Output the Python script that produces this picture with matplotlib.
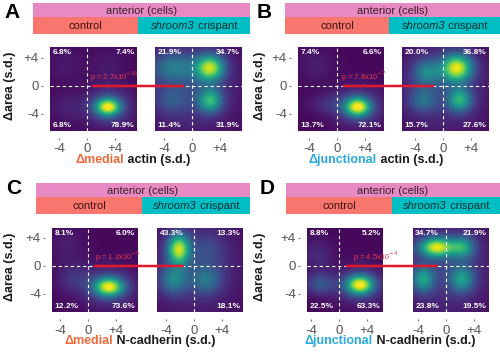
import matplotlib
matplotlib.use("Agg")
import matplotlib.pyplot as plt
import numpy as np
from matplotlib.patches import Rectangle, ConnectionPatch

plt.rcParams['font.family'] = ['Liberation Sans', 'DejaVu Sans']

# ---------------- data ----------------
x_ticks = [-4, 0, 4]
x_tick_labels = ["-4", "0", "+4"]
y_ticks = [4, 0, -4]
y_tick_labels = ["+4", "0", "-4"]

panel_letters = ["A", "B", "C", "D"]
x_label_prefix = ["\u0394medial", "\u0394junctional", "\u0394medial", "\u0394junctional"]
x_label_suffix = [" actin (s.d.)", " actin (s.d.)", " N-cadherin (s.d.)", " N-cadherin (s.d.)"]
p_values = ["p = 2.7x10$^{-16}$", "p = 7.8x10$^{-7}$", "p = 1.3x10$^{-5}$", "p = 4.5x10$^{-4}$"]

# quadrant percentages: TL, TR, BL, BR
pct_A_ctrl = ["6.8%", "7.4%", "6.8%", "78.9%"]
pct_A_shr = ["21.9%", "34.7%", "11.4%", "31.9%"]
pct_B_ctrl = ["7.4%", "6.6%", "13.7%", "72.1%"]
pct_B_shr = ["20.0%", "36.8%", "15.7%", "27.6%"]
pct_C_ctrl = ["8.1%", "6.0%", "12.2%", "73.6%"]
pct_C_shr = ["43.3%", "13.3%", "", "18.1%"]
pct_D_ctrl = ["8.8%", "5.2%", "22.5%", "63.3%"]
pct_D_shr = ["34.7%", "21.9%", "23.8%", "19.5%"]

# density blobs: (x, y, sd_x, sd_y, weight)
blobs_A_ctrl = [(3.0, -3.0, 1.2, 0.85, 0.8), (3.0, -3.0, 2.4, 1.9, 0.22),
                (-3.0, -3.0, 1.8, 1.5, 0.06), (-3.0, 3.0, 1.8, 1.8, 0.05), (3.0, 3.0, 1.8, 1.8, 0.05)]
blobs_A_shr = [(2.6, 2.6, 1.4, 1.3, 0.78), (2.6, -2.1, 1.2, 1.2, 0.55),
               (-2.7, 2.7, 2.4, 1.5, 0.3), (-3.0, -2.0, 1.7, 1.4, 0.16), (0.0, 0.0, 4.5, 4.5, 0.16)]
blobs_B_ctrl = [(3.0, -3.0, 1.2, 0.9, 0.8), (3.0, -3.0, 2.4, 1.9, 0.22),
                (-1.0, -2.6, 2.2, 1.0, 0.10), (-3.0, 3.0, 1.8, 1.8, 0.06)]
blobs_B_shr = [(2.0, 2.6, 1.5, 1.35, 0.85), (2.4, -2.0, 1.2, 1.2, 0.52),
               (-2.3, 2.0, 1.4, 1.3, 0.34), (-2.9, -2.0, 1.4, 1.2, 0.26), (0.0, 0.0, 4.5, 4.5, 0.15)]
blobs_C_ctrl = [(3.0, -3.0, 1.4, 0.9, 0.78), (3.0, -3.0, 2.6, 1.9, 0.22),
                (-2.0, -1.8, 1.8, 1.5, 0.12), (-3.0, 3.0, 1.8, 1.8, 0.06)]
blobs_C_shr = [(-2.2, 2.4, 1.1, 1.5, 0.8), (-2.9, -2.0, 1.4, 1.4, 0.34),
               (1.8, -2.0, 1.5, 1.4, 0.26), (2.0, 2.5, 1.7, 1.7, 0.1), (0.0, 0.0, 4.5, 4.5, 0.15)]
blobs_D_ctrl = [(3.0, -2.7, 1.3, 0.9, 0.8), (3.0, -2.7, 2.4, 1.8, 0.22),
                (-2.7, -2.6, 1.5, 1.1, 0.24), (-3.0, 1.5, 1.5, 1.7, 0.1)]
blobs_D_shr = [(-1.3, 2.7, 1.7, 0.95, 0.82), (2.4, 2.7, 1.2, 1.1, 0.45),
               (-3.3, -1.9, 1.1, 1.3, 0.45), (2.3, -1.9, 1.2, 1.3, 0.42), (0.0, 0.0, 4.5, 4.5, 0.17)]

ctrl_blobs = [blobs_A_ctrl, blobs_B_ctrl, blobs_C_ctrl, blobs_D_ctrl]
shr_blobs = [blobs_A_shr, blobs_B_shr, blobs_C_shr, blobs_D_shr]
ctrl_pcts = [pct_A_ctrl, pct_B_ctrl, pct_C_ctrl, pct_D_ctrl]
shr_pcts = [pct_A_shr, pct_B_shr, pct_C_shr, pct_D_shr]

# ---------------- layout (pixels) ----------------
W, H = 500, 354
fig = plt.figure(figsize=(5, 3.54), dpi=100)
R = fig.canvas.get_renderer()

PINK, SALMON, TEAL = "#E78AC3", "#F8766D", "#00BFC4"
COL_MED, COL_JUN = "#EE6A3C", "#29A9DD"
prefix_colors = [COL_MED, COL_JUN, COL_MED, COL_JUN]
RED = "#E3172B"

layout = [
    dict(hx0=33, hsplit=138, hx1=250, htop=3, L=(50, 137), Rr=(155, 242), zL=87, zR=192, y0=47, y1=131, zy=86,
         let=(12, 12), xl=(133, 160), ylx=10, l0=0.86, l1=-1.3, ptx=90),
    dict(hx0=285, hsplit=389, hx1=500, htop=3, L=(298, 384), Rr=(402, 489), zL=337, zR=443, y0=47, y1=131, zy=86,
         let=(264, 12), xl=(376, 160), ylx=260, l0=1.0, l1=-1.4, ptx=341),
    dict(hx0=36, hsplit=142, hx1=250, htop=183, L=(52, 138), Rr=(157, 243), zL=88, zR=194, y0=228, y1=312, zy=266,
         let=(14, 189), xl=(140, 341), ylx=10, l0=1.0, l1=-1.6, ptx=95),
    dict(hx0=286, hsplit=392, hx1=500, htop=183, L=(307, 383), Rr=(413, 489), zL=339, zR=446, y0=228, y1=312, zy=266,
         let=(267, 189), xl=(390, 341), ylx=260, l0=1.1, l1=-1.3, ptx=353),
]
PX = 7.0  # pixels per s.d.


def fbox(x0, y0, x1, y1):
    return [x0 / W, 1 - y1 / H, (x1 - x0) / W, (y1 - y0) / H]


def fx(x):
    return x / W


def fy(y):
    return 1 - y / H


def density(blobs, xlim, ylim):
    xs = np.linspace(xlim[0], xlim[1], 220)
    ys = np.linspace(ylim[0], ylim[1], 220)
    X, Y = np.meshgrid(xs, ys)
    Z = np.full_like(X, 0.02)
    for bx, by, sx, sy, w in blobs:
        Z += w * np.exp(-0.5 * (((X - bx) / sx) ** 2 + ((Y - by) / sy) ** 2))
    return Z


def multi_text(cx, cy, parts, size, weight="normal"):
    texts, widths = [], []
    for s, c, st in parts:
        t = fig.text(0, 0, s, color=c, fontsize=size, fontweight=weight, fontstyle=st,
                     ha="left", va="center")
        texts.append(t)
        widths.append(t.get_window_extent(renderer=R).width)
    x = cx - sum(widths) / 2
    for t, w in zip(texts, widths):
        t.set_position((fx(x), fy(cy)))
        x += w


def heatmap(x0, x1, zx, ly, pcts, blobs, show_y):
    xlim = ((x0 - zx) / PX, (x1 - zx) / PX)
    ylim = (-(ly["y1"] - ly["zy"]) / PX, (ly["zy"] - ly["y0"]) / PX)
    ax = fig.add_axes(fbox(x0, ly["y0"], x1, ly["y1"]))
    Z = density(blobs, xlim, ylim)
    ax.imshow(Z, origin="lower", extent=(xlim[0], xlim[1], ylim[0], ylim[1]), cmap="viridis",
              vmin=0, vmax=1, aspect="auto", interpolation="bilinear")
    ax.set_xlim(xlim)
    ax.set_ylim(ylim)
    ax.axvline(0, color="white", lw=0.8, ls=(0, (3, 2.5)))
    ax.axhline(0, color="white", lw=0.8, ls=(0, (3, 2.5)))
    for s in ax.spines.values():
        s.set_visible(False)
    ax.spines["bottom"].set_position(("outward", 5))
    ax.spines["left"].set_position(("outward", 5))
    ax.set_xticks(x_ticks)
    ax.set_xticklabels(x_tick_labels)
    if show_y:
        ax.set_yticks(y_ticks)
        ax.set_yticklabels(y_tick_labels)
    else:
        ax.set_yticks([])
    ax.tick_params(length=1.5, width=0.8, color="#777777", labelsize=9.5, labelcolor="#555555", pad=1.5)
    ax.tick_params(axis="x", pad=2.5)
    kw = dict(color="white", fontsize=6, fontweight="bold", transform=ax.transAxes)
    ax.text(0.03, 0.975, pcts[0], ha="left", va="top", **kw)
    ax.text(0.97, 0.975, pcts[1], ha="right", va="top", **kw)
    ax.text(0.03, 0.025, pcts[2], ha="left", va="bottom", **kw)
    ax.text(0.97, 0.025, pcts[3], ha="right", va="bottom", **kw)
    return ax


for i, ly in enumerate(layout):
    t = ly["htop"]
    fig.add_artist(Rectangle((fx(ly["hx0"]), fy(t + 14)), (ly["hx1"] - ly["hx0"]) / W, 14 / H,
                             transform=fig.transFigure, color=PINK, lw=0))
    fig.add_artist(Rectangle((fx(ly["hx0"]), fy(t + 31)), (ly["hsplit"] - ly["hx0"]) / W, 17 / H,
                             transform=fig.transFigure, color=SALMON, lw=0))
    fig.add_artist(Rectangle((fx(ly["hsplit"]), fy(t + 31)), (ly["hx1"] - ly["hsplit"]) / W, 17 / H,
                             transform=fig.transFigure, color=TEAL, lw=0))
    fig.text(fx((ly["hx0"] + ly["hx1"]) / 2), fy(t + 7.5), "anterior (cells)", ha="center", va="center",
             fontsize=8, color="#3a1f2c")
    fig.text(fx((ly["hx0"] + ly["hsplit"]) / 2), fy(t + 23), "control", ha="center", va="center",
             fontsize=8, color="#3f1414")
    multi_text((ly["hsplit"] + ly["hx1"]) / 2, t + 23,
               [("shroom3", "#0d3134", "italic"), (" crispant", "#0d3134", "normal")], 8)

    axL = heatmap(ly["L"][0], ly["L"][1], ly["zL"], ly, ctrl_pcts[i], ctrl_blobs[i], True)
    axR = heatmap(ly["Rr"][0], ly["Rr"][1], ly["zR"], ly, shr_pcts[i], shr_blobs[i], False)

    con = ConnectionPatch(xyA=(ly["l0"], 0), coordsA=axL.transData, xyB=(ly["l1"], 0), coordsB=axR.transData,
                          color=RED, lw=1.8, zorder=10)
    fig.add_artist(con)
    fig.text(fx(ly["ptx"]), fy(ly["zy"] - 9), p_values[i], ha="left", va="center", fontsize=5.5,
             color="#E8364A", zorder=11)

    fig.text(fx(ly["let"][0]), fy(ly["let"][1]), panel_letters[i], ha="center", va="center",
             fontsize=15, fontweight="bold")
    multi_text(ly["xl"][0], ly["xl"][1],
               [(x_label_prefix[i], prefix_colors[i], "normal"), (x_label_suffix[i], "#1a1a1a", "normal")],
               9, weight="bold")
    fig.text(fx(ly["ylx"]), fy((ly["y0"] + ly["y1"]) / 2 - 3), "\u0394area (s.d.)", rotation=90,
             ha="center", va="center", fontsize=9, fontweight="bold", color="#1a1a1a")

fig.savefig("out.png", dpi=100)
